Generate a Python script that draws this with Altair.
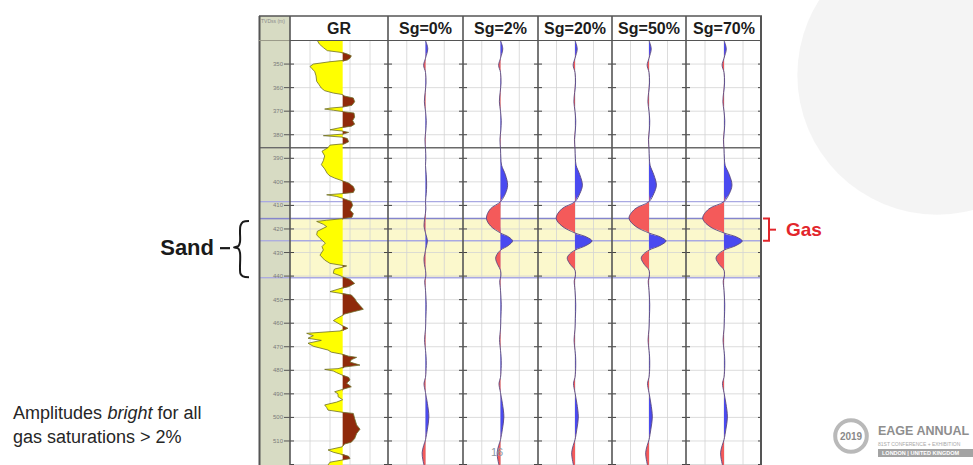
import altair as alt
import pandas as pd

# ---------------- data ----------------
DEPTH_LABELS = [350, 360, 370, 380, 390, 400, 410, 420, 430, 440, 450, 460, 470, 480, 490, 500, 510]
GRID_DEPTHS = [340, 350, 360, 370, 380, 390, 400, 410, 420, 430, 440, 450, 460, 470, 480, 490, 500, 510, 520]
HORIZON_DARK = [385.5]
HORIZONS = [408.4, 425.0, 440.7]
HORIZON_SAND_TOP = [415.6]
SAND_TOP, SAND_BASE = 415.6, 440.7
GAS_TOP, GAS_BASE = 415.6, 425.0

TRACK_TITLES = ["Sg=0%", "Sg=2%", "Sg=20%", "Sg=50%", "Sg=70%"]

GR_CUTOFF = 79
GR_GRID = [30, 60, 90, 120]
GR_DEPTH = [
    340.0, 341.5, 343.0, 344.3, 345.0, 345.6, 346.5, 347.5, 348.3, 349.0,
    350.0, 351.0, 352.0, 353.1, 355.0, 357.3, 358.5, 360.2, 361.3, 362.3,
    362.9, 363.6, 364.4, 366.0, 367.5, 368.2, 368.7, 369.1, 369.6, 370.2,
    370.8, 372.5, 374.0, 375.5, 376.4, 377.0, 377.9, 378.4, 379.0, 379.7,
    380.4, 381.0, 381.6, 383.0, 383.8, 384.4, 385.5, 387.0, 389.0, 391.0,
    392.7, 394.5, 396.5, 397.5, 398.4, 399.5, 400.5, 402.0, 403.3, 404.5,
    405.0, 405.5, 406.2, 407.0, 408.3, 410.0, 412.0, 413.5, 415.0, 415.6,
    416.3, 416.8, 418.0, 419.0, 420.0, 421.0, 422.5, 424.0, 426.0, 427.5,
    428.9, 431.1, 433.2, 434.6, 435.3, 435.7, 436.3, 437.0, 437.4, 438.8,
    439.8, 440.3, 441.4, 443.1, 444.5, 445.3, 446.6, 447.3, 448.0, 449.5,
    450.9, 452.5, 454.1, 455.0, 456.1, 456.8, 458.0, 458.9, 460.0, 461.0,
    462.2, 463.3, 464.3, 465.3, 466.4, 467.3, 468.5, 469.8, 471.4, 472.3,
    473.1, 474.0, 474.5, 475.5, 476.5, 477.8, 478.6, 479.3, 479.6, 480.3,
    481.0, 482.0, 483.0, 484.1, 485.5, 487.0, 488.0, 489.1, 490.0, 491.2,
    492.5, 493.5, 494.7, 495.8, 496.9, 497.8, 498.3, 500.5, 503.2, 505.0,
    506.8, 509.0, 510.5, 511.3, 512.5, 513.8, 514.8, 515.5, 516.5, 517.5,
    518.1, 519.0, 520.2,
]
GR_API = [
    41, 44, 50, 56, 75, 85, 92, 90, 86, 60,
    35, 30, 33, 37, 39, 40, 43, 47, 52, 65,
    78, 82, 95, 97, 93, 80, 60, 52, 65, 80,
    96, 97, 94, 97, 92, 75, 60, 78, 88, 80,
    50, 78, 86, 88, 82, 60, 57, 48, 52, 50,
    47, 52, 56, 60, 67, 78, 88, 95, 97, 95,
    78, 55, 70, 79, 92, 94, 90, 95, 93, 80,
    55, 40, 50, 55, 48, 41, 40, 45, 53, 48,
    50, 45, 52, 60, 75, 85, 78, 67, 66, 65,
    75, 79, 90, 97, 88, 75, 60, 75, 92, 97,
    100, 105, 110, 97, 82, 78, 70, 65, 72, 78,
    87, 75, 25, 35, 27, 47, 27, 35, 57, 62,
    77, 88, 100, 92, 90, 105, 82, 72, 52, 65,
    70, 78, 88, 90, 85, 92, 80, 67, 72, 72,
    79, 70, 52, 55, 57, 78, 95, 97, 100, 105,
    100, 97, 92, 82, 78, 57, 65, 75, 88, 90,
    78, 60, 57,
]

# synthetic traces: background wiggle outside the gas window
BG_DEPTH = [340, 343.5, 347.5, 350.5, 353.5, 358, 362, 366, 370, 374, 378, 382, 386,
            440, 442, 446, 452, 458, 462.5, 467, 471.5, 474, 478, 483, 485.5, 489.5,
            494, 499.8, 505, 509.5, 512, 515, 518, 520.2]
BG_AMP = [0.0, 0.06, 0.0, -0.05, 0.0, 0.015, -0.01, -0.03, 0.0, 0.02, 0.01, -0.015, 0.0,
          0.01, -0.02, 0.0, 0.02, 0.01, 0.0, -0.025, 0.0, 0.015, 0.02, 0.0, -0.04, 0.0,
          0.05, 0.09, 0.05, 0.0, -0.05, -0.09, -0.07, -0.04]
GAS_DEPTH = [390, 393, 397, 401.4, 405, 408.4, 411.5, 415.4, 418.8, 421.7, 423.4,
             425.1, 427.0, 429.0, 430.7, 432.4, 435.0, 437.5]
AMP_SG0 = [0.01, 0.0, 0.02, 0.03, 0.02, 0.0, 0.01, -0.02, -0.04, 0.0, 0.03, 0.05, 0.03, 0.0, -0.02, -0.04, -0.03, 0.0]
AMP_SG2 = [0.01, 0.03, 0.13, 0.19, 0.13, 0.0, -0.27, -0.375, -0.26, 0.0, 0.22, 0.32, 0.21, 0.0, -0.09, -0.13, -0.08, 0.0]
AMP_SG20 = [0.01, 0.03, 0.13, 0.2, 0.13, 0.0, -0.36, -0.51, -0.35, 0.0, 0.31, 0.46, 0.3, 0.0, -0.15, -0.21, -0.13, 0.0]
AMP_SG50 = [0.01, 0.03, 0.13, 0.2, 0.13, 0.0, -0.38, -0.54, -0.37, 0.0, 0.31, 0.46, 0.3, 0.0, -0.15, -0.21, -0.13, 0.0]
AMP_SG70 = [0.01, 0.03, 0.14, 0.21, 0.14, 0.0, -0.4, -0.56, -0.39, 0.0, 0.33, 0.48, 0.32, 0.0, -0.15, -0.21, -0.13, 0.0]
TRACE_AMPS = [AMP_SG0, AMP_SG2, AMP_SG20, AMP_SG50, AMP_SG70]

# annotation shapes (panel pixel x, depth)
BRACE_X = [249, 243, 240.5, 240, 240, 238.5, 234, 238.5, 240, 240, 240.5, 243, 249]
BRACE_D = [416.6, 417.0, 418.6, 421.0, 425.5, 427.2, 427.8, 428.4, 430.1, 437.0, 439.0, 440.1, 440.5]

TEXT_LINE1 = ["Amplitudes", "bright", "for all"]
TEXT_LINE2 = "gas saturations > 2%"

# ---------------- layout / style ----------------
W_LEFT, W_DEPTH, W_GR = 259, 31, 98
W_TRACKS = [75, 75, 74, 74, 76]
W_RIGHT = 211
H = 465
Y_TOP, Y_BOT = 322.8, 520.2
TOP_PX = 16
BODY_PX = (340 - Y_TOP) / (Y_BOT - Y_TOP) * H

FONT = "Liberation Sans"
BORDER = "#555555"
GRIDC = "#d3d3d3"
SAND_FILL = "#fbf8cc"
BLUE = "#4a4af0"
RED = "#f45a5a"
YELLOW = "#ffff00"
BROWN = "#8f2a0b"

ysc = alt.Scale(domain=[Y_TOP, Y_BOT], reverse=True, nice=False, zero=False)


def Yq(field="depth"):
    return alt.Y(f"{field}:Q", scale=ysc, axis=None)


def hline_layer(depths, width, color, sw):
    return alt.Chart(pd.DataFrame({"depth": depths})).mark_rule(color=color, strokeWidth=sw).encode(
        y=Yq(), x=alt.value(0), x2=alt.value(width))


def frame_back(width, xsc=None, grid_x=None, band=True):
    layers = []
    if band:
        layers.append(alt.Chart(pd.DataFrame({"top": [SAND_TOP], "base": [SAND_BASE]})).mark_rect(
            color=SAND_FILL).encode(y=Yq("top"), y2="base:Q", x=alt.value(0), x2=alt.value(width)))
    layers.append(hline_layer(GRID_DEPTHS, width, GRIDC, 0.8))
    if grid_x is not None:
        layers.append(alt.Chart(pd.DataFrame({"gx": grid_x})).mark_rule(color=GRIDC, strokeWidth=0.8).encode(
            x=alt.X("gx:Q", scale=xsc, axis=None), y=alt.value(BODY_PX), y2=alt.value(H)))
    layers.append(hline_layer(HORIZONS, width, "#a9a9e2", 1.3))
    layers.append(hline_layer(HORIZON_SAND_TOP, width, "#8585cc", 1.5))
    layers.append(hline_layer(HORIZON_DARK, width, "#6a6a6a", 1.4))
    return layers


def frame_front(width, title, last=False, title_size=16):
    layers = []
    one = pd.DataFrame({"t": [title]})
    ticks = pd.DataFrame({"depth": GRID_DEPTHS})
    layers.append(alt.Chart(ticks).mark_rule(color="#444444", strokeWidth=1).encode(
        y=Yq(), x=alt.value(0), x2=alt.value(4)))
    layers.append(alt.Chart(ticks).mark_rule(color="#444444", strokeWidth=1).encode(
        y=Yq(), x=alt.value(width - 4), x2=alt.value(width)))
    layers.append(alt.Chart(one).mark_rule(color=BORDER, strokeWidth=1.6).encode(
        x=alt.value(0), y=alt.value(TOP_PX), y2=alt.value(H)))
    if last:
        layers.append(alt.Chart(one).mark_rule(color=BORDER, strokeWidth=2).encode(
            x=alt.value(width - 1), y=alt.value(TOP_PX), y2=alt.value(H)))
    layers.append(alt.Chart(one).mark_rule(color=BORDER, strokeWidth=1.5).encode(
        y=alt.value(TOP_PX), x=alt.value(0), x2=alt.value(width)))
    layers.append(alt.Chart(one).mark_rule(color=BORDER, strokeWidth=1.2).encode(
        y=alt.value(BODY_PX), x=alt.value(0), x2=alt.value(width)))
    layers.append(alt.Chart(one).mark_text(font=FONT, fontSize=title_size, fontWeight="bold",
                                           color="#1c1c1c", align="center", baseline="middle").encode(
        x=alt.value(width / 2), y=alt.value((TOP_PX + BODY_PX) / 2 + 1), text="t:N"))
    return layers


# ---------------- left annotation panel ----------------
xs_left = alt.Scale(domain=[0, W_LEFT], nice=False, zero=False)
sand_mid = (SAND_TOP + SAND_BASE) / 2
left_layers = [
    alt.Chart(pd.DataFrame({"t": ["Sand"], "depth": [sand_mid]})).mark_text(
        font=FONT, fontSize=22, fontWeight="bold", color="#1a1a1a", align="right", baseline="middle").encode(
        x=alt.value(214), y=Yq(), text="t:N"),
    alt.Chart(pd.DataFrame({"depth": [sand_mid]})).mark_rule(color="#1a1a1a", strokeWidth=2.2).encode(
        y=Yq(), x=alt.value(220), x2=alt.value(230)),
    alt.Chart(pd.DataFrame({"bx": BRACE_X, "depth": BRACE_D, "i": list(range(len(BRACE_X)))})).mark_line(
        color="#1a1a1a", strokeWidth=2, interpolate="catmull-rom").encode(
        x=alt.X("bx:Q", scale=xs_left, axis=None), y=Yq(), order="i:Q"),
    alt.Chart(pd.DataFrame({"t": [TEXT_LINE1[0]]})).mark_text(
        font=FONT, fontSize=18, color="#262626", align="left", baseline="alphabetic").encode(
        x=alt.value(13), y=alt.value(419), text="t:N"),
    alt.Chart(pd.DataFrame({"t": [TEXT_LINE1[1]]})).mark_text(
        font=FONT, fontSize=18, fontStyle="italic", color="#262626", align="left", baseline="alphabetic").encode(
        x=alt.value(107.5), y=alt.value(419), text="t:N"),
    alt.Chart(pd.DataFrame({"t": [TEXT_LINE1[2]]})).mark_text(
        font=FONT, fontSize=18, color="#262626", align="left", baseline="alphabetic").encode(
        x=alt.value(157.5), y=alt.value(419), text="t:N"),
    alt.Chart(pd.DataFrame({"t": [TEXT_LINE2]})).mark_text(
        font=FONT, fontSize=18, color="#262626", align="left", baseline="alphabetic").encode(
        x=alt.value(13), y=alt.value(443), text="t:N"),
]
left_panel = alt.layer(*left_layers).properties(width=W_LEFT, height=H)

# ---------------- depth column ----------------
one = pd.DataFrame({"t": ["TVDss (m)"]})
depth_layers = [
    alt.Chart(one).mark_rect(color="#d7dbc3").encode(
        x=alt.value(0), x2=alt.value(W_DEPTH), y=alt.value(TOP_PX), y2=alt.value(H)),
    hline_layer(HORIZONS, W_DEPTH, "#a9a9e2", 1.3),
    hline_layer(HORIZON_SAND_TOP, W_DEPTH, "#8585cc", 1.5),
    hline_layer(HORIZON_DARK, W_DEPTH, "#6a6a6a", 1.4),
    alt.Chart(pd.DataFrame({"depth": DEPTH_LABELS})).mark_text(
        font=FONT, fontSize=6, color="#7a7a7a", align="right", baseline="middle").encode(
        x=alt.value(24), y=Yq(), text="depth:Q"),
    alt.Chart(pd.DataFrame({"depth": DEPTH_LABELS})).mark_rule(color="#555555", strokeWidth=1).encode(
        y=Yq(), x=alt.value(25), x2=alt.value(W_DEPTH)),
    alt.Chart(one).mark_text(font=FONT, fontSize=5, color="#8a8a8a", align="left", baseline="middle").encode(
        x=alt.value(2), y=alt.value(TOP_PX + 5), text="t:N"),
    alt.Chart(one).mark_rule(color=BORDER, strokeWidth=2).encode(
        x=alt.value(0.5), y=alt.value(TOP_PX), y2=alt.value(H)),
    alt.Chart(one).mark_rule(color=BORDER, strokeWidth=1.5).encode(
        y=alt.value(TOP_PX), x=alt.value(0), x2=alt.value(W_DEPTH)),
    alt.Chart(one).mark_rule(color="#9a9a8a", strokeWidth=1).encode(
        y=alt.value(BODY_PX), x=alt.value(0), x2=alt.value(W_DEPTH)),
]
depth_panel = alt.layer(*depth_layers).properties(width=W_DEPTH, height=H)

# ---------------- GR track ----------------
gr_df = pd.DataFrame({"depth": GR_DEPTH, "gr": GR_API})
xs_gr = alt.Scale(domain=[0, 147], nice=False, zero=False)
gr_base = alt.Chart(gr_df).transform_calculate(
    lo=f"min(datum.gr, {GR_CUTOFF})", hi=f"max(datum.gr, {GR_CUTOFF})", cut=f"{GR_CUTOFF}")
gr_layers = frame_back(W_GR, xs_gr, GR_GRID) + [
    gr_base.mark_area(orient="horizontal", color=YELLOW).encode(
        y=Yq(), x=alt.X("lo:Q", scale=xs_gr, axis=None), x2="cut:Q"),
    gr_base.mark_area(orient="horizontal", color=BROWN).encode(
        y=Yq(), x=alt.X("cut:Q", scale=xs_gr, axis=None), x2="hi:Q"),
    gr_base.mark_line(color="#6f6f2a", strokeWidth=0.8).encode(
        y=Yq(), x=alt.X("gr:Q", scale=xs_gr, axis=None), order="depth:Q"),
] + frame_front(W_GR, "GR")
gr_panel = alt.layer(*gr_layers).properties(width=W_GR, height=H)

# ---------------- seismic tracks ----------------
xs_tr = alt.Scale(domain=[-1, 1], nice=False, zero=False)


def trace_panel(title, amps, width, last=False, extra=None):
    d = list(BG_DEPTH[:13]) + list(GAS_DEPTH) + list(BG_DEPTH[13:])
    a = list(BG_AMP[:13]) + list(amps) + list(BG_AMP[13:])
    df = pd.DataFrame({"depth": d, "amp": a})
    base = alt.Chart(df).transform_calculate(
        pos="max(datum.amp, 0)", neg="min(datum.amp, 0)", zero="0")
    layers = frame_back(width, xs_tr, [-0.5, 0, 0.5]) + [
        base.mark_area(orient="horizontal", color=BLUE, interpolate="catmull-rom").encode(
            y=Yq(), x=alt.X("pos:Q", scale=xs_tr, axis=None), x2="zero:Q"),
        base.mark_area(orient="horizontal", color=RED, interpolate="catmull-rom").encode(
            y=Yq(), x=alt.X("neg:Q", scale=xs_tr, axis=None), x2="zero:Q"),
        base.mark_line(color="#5a4a80", strokeWidth=0.9, interpolate="catmull-rom").encode(
            y=Yq(), x=alt.X("amp:Q", scale=xs_tr, axis=None), order="depth:Q"),
    ]
    if extra is not None:
        layers += extra
    layers += frame_front(width, title, last=last)
    return alt.layer(*layers).properties(width=width, height=H)


page_num = [alt.Chart(pd.DataFrame({"t": ["16"]})).mark_text(
    font=FONT, fontSize=11, color="#8a9aa6", align="center", baseline="middle").encode(
    x=alt.value(34), y=alt.value(453), text="t:N")]

track_panels = []
for k, (title, amps, w) in enumerate(zip(TRACK_TITLES, TRACE_AMPS, W_TRACKS)):
    track_panels.append(trace_panel(title, amps, w, last=(k == len(TRACK_TITLES) - 1),
                                    extra=page_num if k == 1 else None))

# ---------------- right annotation panel ----------------
xs_right = alt.Scale(domain=[0, W_RIGHT], nice=False, zero=False)
gas_mid = (GAS_TOP + GAS_BASE) / 2
GAS_RED = "#e2262c"
bracket_df = pd.DataFrame({"bx": [1, 7, 7, 1], "depth": [GAS_TOP, GAS_TOP, GAS_BASE, GAS_BASE], "i": [0, 1, 2, 3]})
right_layers = [
    alt.Chart(pd.DataFrame({"t": ["globe"]})).mark_point(
        shape="circle", filled=True, color="#ededed", opacity=0.6, size=78000, clip=True).encode(
        x=alt.value(175), y=alt.value(75)),
    alt.Chart(bracket_df).mark_line(color=GAS_RED, strokeWidth=2).encode(
        x=alt.X("bx:Q", scale=xs_right, axis=None), y=Yq(), order="i:Q"),
    alt.Chart(pd.DataFrame({"depth": [gas_mid]})).mark_rule(color=GAS_RED, strokeWidth=2).encode(
        y=Yq(), x=alt.value(7), x2=alt.value(14)),
    alt.Chart(pd.DataFrame({"t": ["Gas"], "depth": [gas_mid]})).mark_text(
        font=FONT, fontSize=19, fontWeight="bold", color=GAS_RED, align="left", baseline="middle").encode(
        x=alt.value(24), y=Yq(), text="t:N"),
    # conference logo
    alt.Chart(pd.DataFrame({"t": ["logo"]})).mark_point(
        shape="circle", filled=False, color="#9c9c9c", strokeWidth=4, size=1000).encode(
        x=alt.value(89), y=alt.value(436)),
    alt.Chart(pd.DataFrame({"t": ["2019"]})).mark_text(
        font=FONT, fontSize=10, fontWeight="bold", color="#8a8a8a", align="center", baseline="middle").encode(
        x=alt.value(89), y=alt.value(437), text="t:N"),
    alt.Chart(pd.DataFrame({"t": ["EAGE ANNUAL"]})).mark_text(
        font=FONT, fontSize=12.5, fontWeight="bold", color="#8e8e8e",
        align="left", baseline="alphabetic").encode(
        x=alt.value(116), y=alt.value(435), text="t:N"),
    alt.Chart(pd.DataFrame({"t": ["81ST CONFERENCE + EXHIBITION"]})).mark_text(
        font=FONT, fontSize=5, color="#a8a8a8", align="left", baseline="middle").encode(
        x=alt.value(116), y=alt.value(444), text="t:N"),
    alt.Chart(pd.DataFrame({"t": ["bar"]})).mark_rect(color="#a3a3a3").encode(
        x=alt.value(116), x2=alt.value(W_RIGHT), y=alt.value(449), y2=alt.value(457)),
    alt.Chart(pd.DataFrame({"t": ["LONDON | UNITED KINGDOM"]})).mark_text(
        font=FONT, fontSize=5.5, fontWeight="bold", color="#ffffff", align="left", baseline="middle").encode(
        x=alt.value(120), y=alt.value(453), text="t:N"),
]
right_panel = alt.layer(*right_layers).properties(width=W_RIGHT, height=H)

chart = alt.hconcat(left_panel, depth_panel, gr_panel, *track_panels, right_panel, spacing=0).properties(
    bounds="flush", padding=0, background="white").configure_view(stroke=None)

chart.save("out.html", embed_options={"renderer": "svg", "actions": False})
